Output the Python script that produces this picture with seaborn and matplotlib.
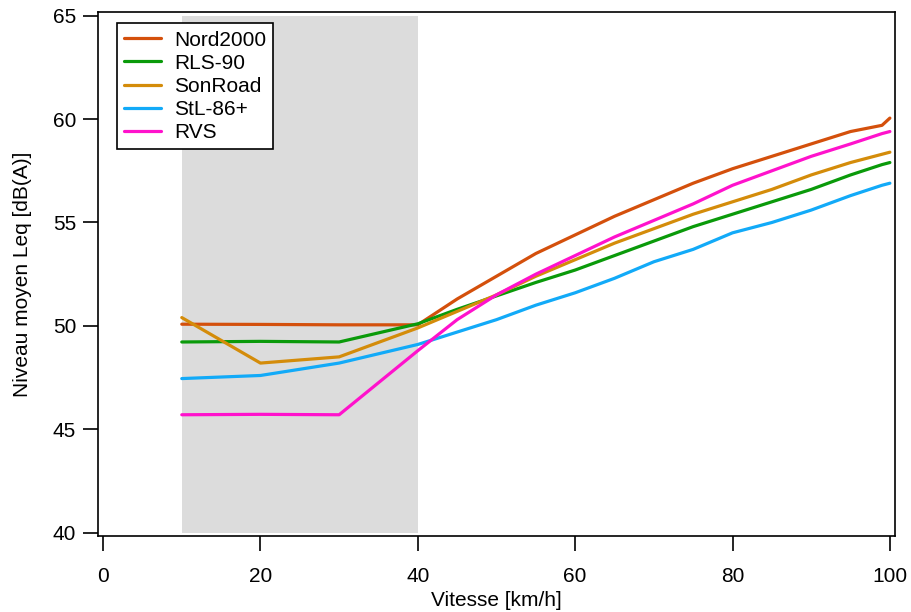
import pandas as pd
import numpy as np
import seaborn as sns
import matplotlib.pyplot as plt

# vitesse [km/h] and niveau moyen Leq [dB(A)]
vitesse = [10, 20, 30, 40, 45, 50, 55, 60, 65, 70, 75, 80, 85, 90, 95, 99, 100]

nord2000 = [50.08, 50.07, 50.05, 50.05, 51.3, 52.4, 53.5, 54.4, 55.3, 56.1,
            56.9, 57.6, 58.2, 58.8, 59.4, 59.7, 60.05]
rls90 = [49.22, 49.25, 49.22, 50.1, 50.8, 51.45, 52.1, 52.7, 53.4, 54.1,
         54.8, 55.4, 56.0, 56.6, 57.3, 57.8, 57.9]
sonroad = [50.4, 48.2, 48.5, 49.9, 50.7, 51.5, 52.4, 53.2, 54.0, 54.7,
           55.4, 56.0, 56.6, 57.3, 57.9, 58.3, 58.4]
stl86 = [47.45, 47.6, 48.2, 49.1, 49.7, 50.3, 51.0, 51.6, 52.3, 53.1,
         53.7, 54.5, 55.0, 55.6, 56.3, 56.8, 56.9]
rvs = [45.7, 45.72, 45.7, 48.8, 50.3, 51.5, 52.5, 53.4, 54.3, 55.1,
       55.9, 56.8, 57.5, 58.2, 58.8, 59.3, 59.4]

modeles = ["Nord2000", "RLS-90", "SonRoad", "StL-86+", "RVS"]
couleurs = ["#D4500C", "#0A9A0A", "#D48C0A", "#12AAF8", "#FF12CC"]

series = [nord2000, rls90, sonroad, stl86, rvs]
df = pd.concat(
    [pd.DataFrame({"vitesse": vitesse, "niveau": s, "modele": m})
     for m, s in zip(modeles, series)],
    ignore_index=True,
)

sns.set_theme(style="white")
plt.rcParams["font.family"] = ["Liberation Sans", "DejaVu Sans"]
plt.rcParams["font.size"] = 15
plt.rcParams["text.color"] = "black"
plt.rcParams["axes.labelcolor"] = "black"

fig = plt.figure(figsize=(9.11, 6.12), dpi=100)
ax = fig.add_axes([0.108, 0.124, 0.874, 0.856])

# zone grise 10-40 km/h
ax.fill_between([10, 40], 40, 65, color="#DCDCDC", lw=0, zorder=0)

sns.lineplot(data=df, x="vitesse", y="niveau", hue="modele",
             palette=dict(zip(modeles, couleurs)), hue_order=modeles,
             estimator=None, lw=2.3, ax=ax)

ax.set_xlim(-0.6, 100.6)
ax.set_ylim(39.83, 65.17)
ax.set_xticks([0, 20, 40, 60, 80, 100])
ax.set_yticks([40, 45, 50, 55, 60, 65])
ax.tick_params(axis="both", direction="out", length=11, width=1.2,
               colors="black", labelsize=15, bottom=True, left=True)
ax.tick_params(axis="x", pad=11)
ax.tick_params(axis="y", pad=5)
for sp in ax.spines.values():
    sp.set_visible(True)
    sp.set_color("black")
    sp.set_linewidth(1.2)

ax.set_xlabel("Vitesse [km/h]", fontsize=15, labelpad=4)
ax.set_ylabel("Niveau moyen Leq [dB(A)]", fontsize=15, labelpad=15)

leg = ax.legend(loc="upper left", bbox_to_anchor=(0.023, 0.979), fontsize=15,
                frameon=True, fancybox=False, handlelength=1.8,
                handletextpad=0.6, labelspacing=0.2, borderpad=0.35,
                borderaxespad=0, framealpha=1)
leg.get_frame().set_edgecolor("black")
leg.get_frame().set_facecolor("white")
leg.get_frame().set_linewidth(1.2)
for line in leg.get_lines():
    line.set_linewidth(2.3)

fig.savefig("out.png", dpi=100)
